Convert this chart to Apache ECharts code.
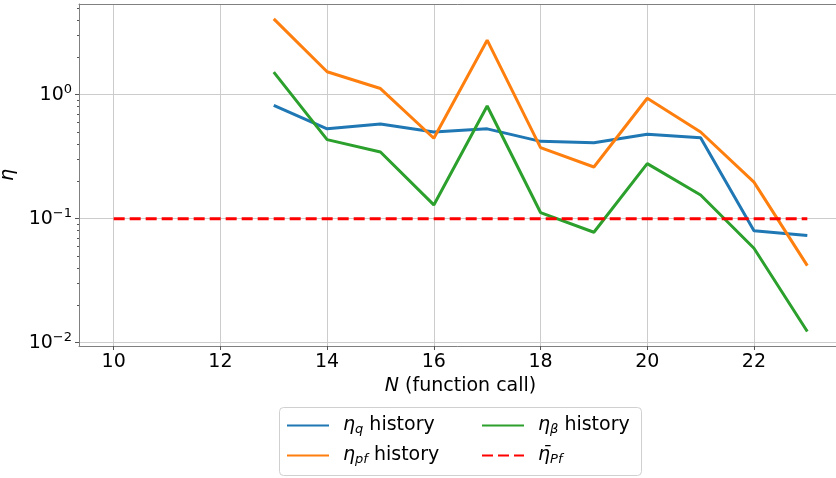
<!DOCTYPE html>
<html><head><meta charset="utf-8">
<script src="https://cdn.jsdelivr.net/npm/echarts@6/dist/echarts.min.js"></script>
<style>html,body{margin:0;padding:0;background:#fff;overflow:hidden}#c{width:836px;height:478px}</style>
</head><body><div id="c"></div>
<script>
const N = [13,14,15,16,17,18,19,20,21,22,23];
const etaQ = [0.82,0.53,0.58,0.50,0.53,0.42,0.41,0.48,0.45,0.080,0.073];
const etaPf = [4.08,1.53,1.12,0.445,2.75,0.374,0.261,0.935,0.50,0.197,0.0418];
const etaBeta = [1.52,0.434,0.345,0.129,0.81,0.112,0.0777,0.278,0.155,0.0577,0.0123];
const targetN = [10,23];
const targetPf = [0.1,0.1];
const xTicks = [10,12,14,16,18,20,22];
const yTicks = [0.01,0.1,1];
const yMinor = [0.02,0.03,0.04,0.05,0.06,0.07,0.08,0.09,0.2,0.3,0.4,0.5,0.6,0.7,0.8,0.9,2,3,4,5];

const FONT = 'DejaVu Sans';
const zip = (a,b)=>a.map((v,i)=>[v,b[i]]);
const yMin = Math.pow(10,-2.027), yMax = Math.pow(10,0.731);

const legendRich = {
  i:{fontFamily:FONT,fontSize:19,fontStyle:'italic',color:'#000',lineHeight:24,padding:[0,0,0,9]},
  sub:{fontFamily:FONT,fontSize:13,fontStyle:'italic',color:'#000',lineHeight:24,padding:[8,0,0,0]},
  t:{fontFamily:FONT,fontSize:19,color:'#000',lineHeight:24}
};
const legendFmt = {
  q:'{i|η}{sub|q}{t| history}',
  pf:'{i|η}{sub|pf}{t| history}',
  beta:'{i|η}{sub|β}{t| history}',
  target:'{i|η\u0304}{sub|Pf}'
};
function mkLegend(left, data){
  return {show:true, orient:'vertical', left:left, top:415, itemWidth:42, itemHeight:14, itemGap:9,
    data:data, formatter:n=>legendFmt[n], textStyle:{rich:legendRich}, padding:0, selectedMode:false,
    itemStyle:{opacity:0, borderWidth:0}};
}
function supLabel(v){
  const e = Math.round(Math.log10(v));
  return '{b|10}{s|' + (e<0?'\u2212'+(-e):e) + '}';
}

const chart = echarts.init(document.getElementById('c'), null, {renderer:'canvas'});
chart.setOption({
  animation:false,
  backgroundColor:'#fff',
  grid:{left:79, top:4, width:763, height:342, show:false, outerBoundsMode:'none', containLabel:false},
  graphic:[{type:'rect', shape:{x:279.5,y:407.5,width:362,height:68,r:4}, style:{fill:'#fff',stroke:'#d0d0d0',lineWidth:1}, z:-1}],
  legend:[mkLegend(286,['q','pf']), mkLegend(481,['beta','target'])],
  xAxis:[{type:'value', min:9.35, max:23.65,
    name:'{i|N}{t| (function call)}', nameLocation:'middle', nameGap:24,
    nameTextStyle:{rich:{i:{fontFamily:FONT,fontSize:19,fontStyle:'italic',color:'#000'},t:{fontFamily:FONT,fontSize:19,color:'#000'}}},
    axisLine:{show:true, lineStyle:{color:'#808080'}},
    axisTick:{show:true, length:4, customValues:xTicks, lineStyle:{color:'#555'}},
    axisLabel:{customValues:xTicks, fontFamily:FONT, fontSize:19, color:'#000', margin:7},
    splitLine:{show:true, lineStyle:{color:'#cccccc', width:1}}
  },{type:'value', min:9.35, max:23.65, position:'top',
    axisLine:{show:true, lineStyle:{color:'#808080'}}, axisTick:{show:false}, axisLabel:{show:false}, splitLine:{show:false}
  }],
  yAxis:[{type:'log', logBase:10, min:yMin, max:yMax,
    name:'η', nameLocation:'middle', nameGap:49,
    nameTextStyle:{fontFamily:FONT,fontSize:19,fontStyle:'italic',color:'#000'},
    axisLine:{show:true, lineStyle:{color:'#808080'}},
    axisTick:{show:true, length:4, customValues:yTicks, lineStyle:{color:'#555'}},
    axisLabel:{customValues:yTicks, formatter:supLabel, margin:7,
      rich:{b:{fontFamily:FONT,fontSize:19,color:'#000'}, s:{fontFamily:FONT,fontSize:13,color:'#000',padding:[0,0,10,0]}}},
    splitLine:{show:true, lineStyle:{color:'#cccccc', width:1}}
  },{type:'log', logBase:10, min:yMin, max:yMax, position:'left',
    axisLine:{show:false}, axisLabel:{show:false}, splitLine:{show:false},
    axisTick:{show:true, length:2, customValues:yMinor, lineStyle:{color:'#555'}}
  }],
  series:[
    {name:'q', type:'line', data:zip(N,etaQ), showSymbol:false, symbol:'none', lineStyle:{color:'#1f77b4', width:3}, itemStyle:{color:'#1f77b4'}, z:3},
    {name:'pf', type:'line', data:zip(N,etaPf), showSymbol:false, symbol:'none', lineStyle:{color:'#ff7f0e', width:3}, itemStyle:{color:'#ff7f0e'}, z:3},
    {name:'beta', type:'line', data:zip(N,etaBeta), showSymbol:false, symbol:'none', lineStyle:{color:'#2ca02c', width:3}, itemStyle:{color:'#2ca02c'}, z:3},
    {name:'target', type:'line', data:zip(targetN,targetPf), showSymbol:false, symbol:'none', lineStyle:{color:'#ff0000', width:3, type:[11,5]}, itemStyle:{color:'#ff0000'}, z:4}
  ]
});
</script></body></html>
